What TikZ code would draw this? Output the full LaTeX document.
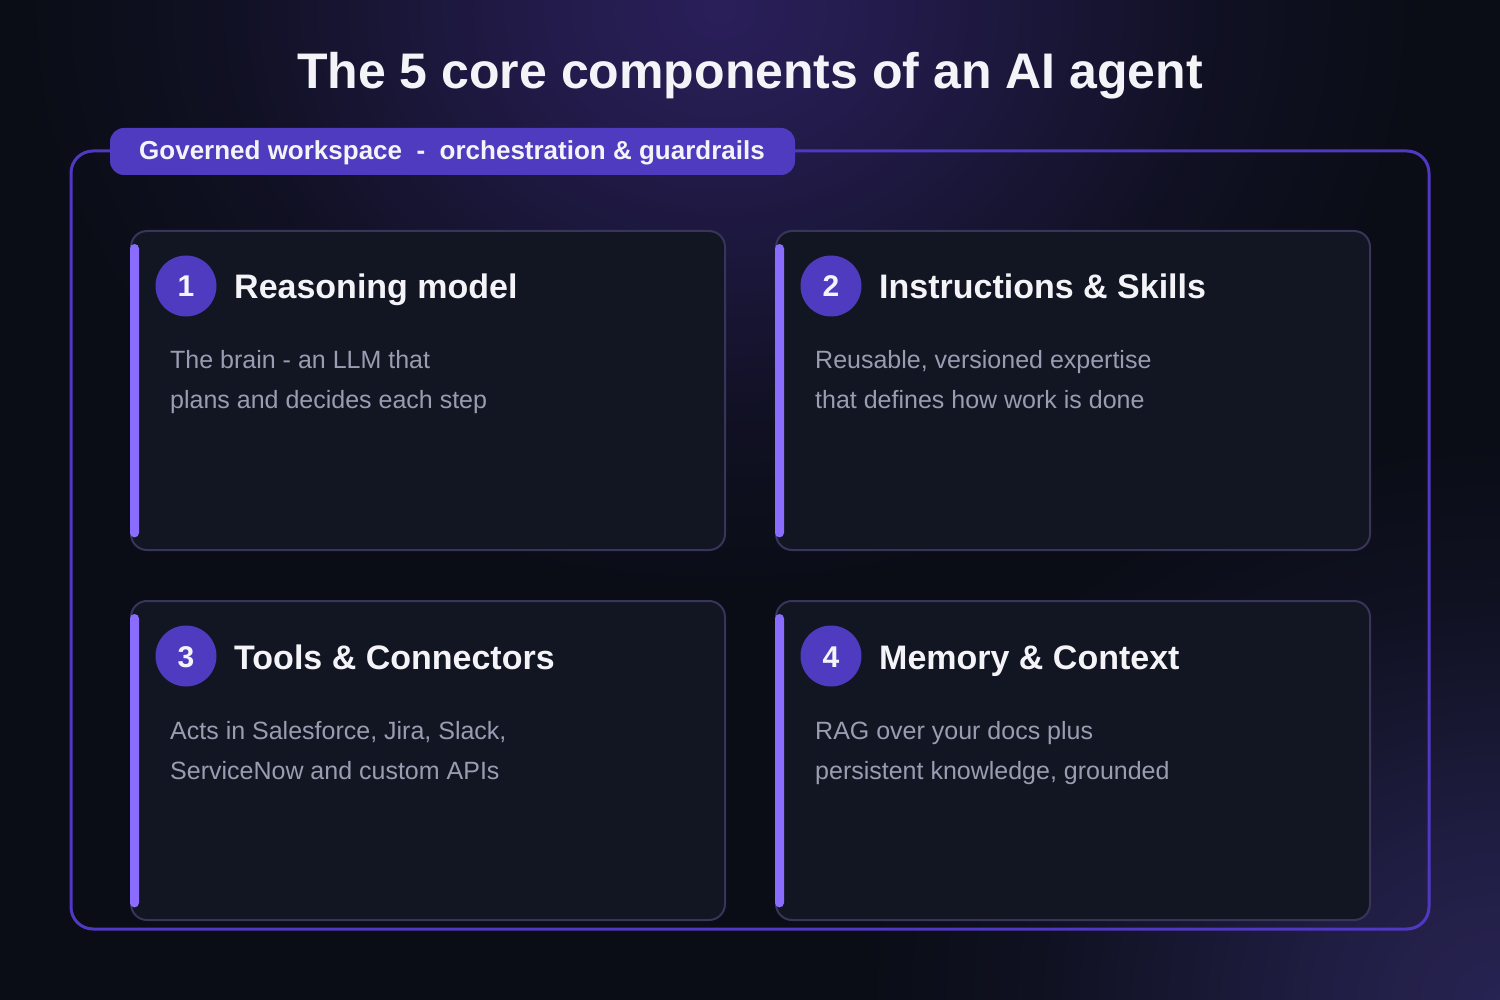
\documentclass[tikz,border=0pt]{standalone}
\usepackage{fontspec}
\setmainfont{Liberation Sans}
\definecolor{bgc}{HTML}{0A0D16}
\definecolor{glowA}{HTML}{2A1F5A}
\definecolor{glowB}{HTML}{272352}
\colorlet{glowAh}{glowA!78!bgc}
\colorlet{glowAm}{glowA!48!bgc}
\colorlet{glowAl}{glowA!18!bgc}
\colorlet{glowBh}{glowB!78!bgc}
\colorlet{glowBm}{glowB!48!bgc}
\colorlet{glowBl}{glowB!18!bgc}
\definecolor{purp}{HTML}{4F3BBF}
\definecolor{outerc}{HTML}{5039C2}
\definecolor{accent}{HTML}{8A6DFF}
\definecolor{cardfill}{HTML}{121623}
\definecolor{cardline}{HTML}{38345A}
\definecolor{titlec}{HTML}{F4F4F8}
\definecolor{descc}{HTML}{9A9DB1}
\pgfdeclareradialshading{topglow}{\pgfpoint{0bp}{0bp}}{color(0bp)=(glowA); color(6bp)=(glowAh); color(12bp)=(glowAm); color(18bp)=(glowAl); color(25bp)=(bgc); color(50bp)=(bgc)}
\pgfdeclareradialshading{cornerglow}{\pgfpoint{0bp}{0bp}}{color(0bp)=(glowB); color(6bp)=(glowBh); color(12bp)=(glowBm); color(18bp)=(glowBl); color(25bp)=(bgc); color(50bp)=(bgc)}
\tikzset{
  outerbox/.style={draw=outerc, line width=3pt, rounded corners=22pt},
  pillbox/.style={fill=purp, rounded corners=14pt},
  pilltext/.style={text=titlec, font=\fontsize{26}{30}\selectfont\bfseries, inner sep=0pt, anchor=base},
  cardbox/.style={draw=cardline, fill=cardfill, line width=2pt, rounded corners=16pt},
  accentbar/.style={fill=accent, rounded corners=4.5pt},
  numdisc/.style={circle, fill=purp, minimum size=61pt, inner sep=0pt},
  numtext/.style={text=titlec, font=\fontsize{30}{36}\selectfont\bfseries, inner sep=0pt, anchor=base},
  cardtitle/.style={text=titlec, font=\fontsize{34}{40}\selectfont\bfseries, inner sep=0pt, anchor=base west},
  desctext/.style={text=descc, font=\fontsize{25}{30}\selectfont, inner sep=0pt, anchor=base west},
  maintitle/.style={text=titlec, font=\fontsize{50}{60}\selectfont\bfseries, inner sep=0pt, anchor=base},
}
% #1 id, #2 left x, #3 top y, #4 number, #5 title, #6 line 1, #7 line 2
\newcommand{\drawcard}[7]{%
  \path[cardbox] (#2,#3) rectangle ++(594,319);
  \node[inner sep=0pt, minimum width=594pt, minimum height=319pt, anchor=north west] (#1) at (#2,#3) {};
  \path[accentbar] ($(#1.north west)+(-1,13)$) rectangle ($(#1.south west)+(8,-13)$);
  \node[numdisc] (#1disc) at ($(#1.north west)+(55,55)$) {};
  \node[numtext] (#1num) at ($(#1disc.center)+(0,11)$) {#4};
  \node[cardtitle] (#1title) at ($(#1.north west)+(103,68)$) {#5};
  \node[desctext] (#1descA) at ($(#1.north west)+(39,138)$) {#6};
  \node[desctext] (#1descB) at ($(#1.north west)+(39,178)$) {#7};
}
\usetikzlibrary{calc}
\begin{document}
\begin{tikzpicture}[x=1pt, y=-1pt]
\useasboundingbox (0,0) rectangle (1500,1000);
\fill[bgc] (0,0) rectangle (1500,1000);
\begin{scope}
  \clip (0,0) rectangle (1500,1000);
  \shade[shading=topglow] (720,10) ellipse (700 and 580);
  \shade[shading=cornerglow] (1500,1000) ellipse (640 and 560);
\end{scope}
\node[maintitle] (title) at (750,89) {The 5 core components of an AI agent};
\path[outerbox] (71,151) rectangle (1429,929);
\node[pillbox, minimum width=685pt, minimum height=47pt, inner sep=0pt] (pill) at (452.5,151.5) {};
\node[pilltext] (pilllabel) at (452,160) {Governed workspace\ \ -\ \ orchestration \& guardrails};
\drawcard{cA}{131}{231}{1}{Reasoning model}{The brain - an LLM that}{plans and decides each step}
\drawcard{cB}{776}{231}{2}{Instructions \& Skills}{Reusable, versioned expertise}{that defines how work is done}
\drawcard{cC}{131}{601}{3}{Tools \& Connectors}{Acts in Salesforce, Jira, Slack,}{ServiceNow and custom APIs}
\drawcard{cD}{776}{601}{4}{Memory \& Context}{RAG over your docs plus}{persistent knowledge, grounded}
\end{tikzpicture}
\end{document}
